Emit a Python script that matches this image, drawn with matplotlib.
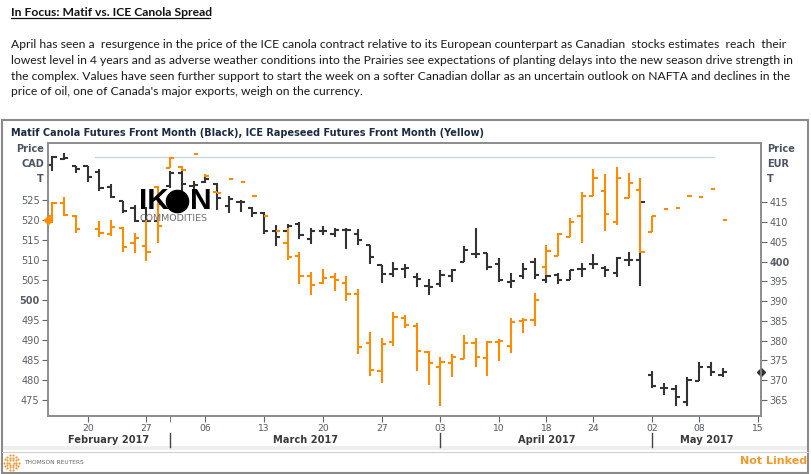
import matplotlib
matplotlib.use("Agg")
import matplotlib.pyplot as plt
import numpy as np
from matplotlib.patches import Rectangle
from matplotlib.lines import Line2D
from matplotlib.transforms import blended_transform_factory

nan = np.nan

# x = trading day index, 0 = 15 Feb 2017 (weekends / holidays skipped)
day_ticks = [3, 8, 13, 18, 23, 28, 33, 38, 42, 46, 51, 55, 60]
day_labels = ["20", "27", "06", "13", "20", "27", "03", "10", "18", "24", "02", "08", "15"]
month_starts = [10, 33, 51]
month_labels = ["February 2017", "March 2017", "April 2017", "May 2017"]

# black bars, right axis (EUR/T)
blk_open = [424.5, 426.0, 424.3, 424.2, 422.7, 418.8, 415.3, 413.5, 410.3, 410.3,
            419.0, 422.3, 419.2, 420.2, 419.6, 414.0, 415.1, 413.5, 412.2, 407.8,
            407.8, 409.6, 405.7, 407.8, 407.1, 408.0, 407.1, 404.3, 399.2, 396.8,
            398.2, 396.1, 393.8, 394.3, 396.4, 399.9, 401.9, 402.2, 399.3, 394.8,
            396.3, 399.9, 395.3, 396.7, 395.3, 398.1, 399.3, 398.5, 397.0, 400.5,
            400.5, 371.4, 368.0, 367.8, 364.6, 369.7, 373.4, 371.2]
blk_high = [426.7, 427.4, 424.3, 424.2, 423.4, 419.6, 415.3, 414.3, 413.9, 415.0,
            422.8, 423.0, 420.5, 421.7, 419.8, 416.6, 415.7, 413.7, 412.6, 409.2,
            409.4, 409.9, 408.6, 409.1, 408.4, 408.4, 408.2, 404.3, 399.2, 399.9,
            399.5, 397.1, 395.7, 398.0, 398.2, 403.9, 408.6, 402.2, 400.8, 397.0,
            399.7, 401.0, 396.5, 397.0, 398.0, 399.7, 402.0, 398.8, 401.2, 402.5,
            415.1, 372.4, 369.3, 368.8, 370.9, 374.5, 374.5, 373.1]
blk_low = [422.8, 425.7, 422.3, 420.2, 417.9, 416.0, 412.4, 410.0, 410.0, 410.0,
           418.5, 416.4, 418.3, 419.8, 413.0, 412.4, 412.6, 411.2, 406.9, 403.9,
           407.3, 405.7, 404.4, 406.7, 406.1, 403.1, 404.1, 399.5, 394.6, 396.0,
           395.9, 393.7, 391.5, 393.6, 394.8, 399.8, 401.0, 398.0, 394.8, 393.2,
           395.7, 395.7, 394.7, 394.4, 395.3, 396.0, 398.2, 396.1, 396.0, 398.8,
           393.8, 368.0, 366.3, 363.4, 363.5, 369.7, 371.0, 370.7]
blk_close = [426.4, 426.3, 423.4, 421.3, 418.5, 416.4, 412.9, 410.3, 410.2, 414.5,
             422.3, 419.6, 419.5, 420.8, 416.2, 415.9, 415.1, 412.4, 407.8, 406.1,
             409.1, 406.7, 407.8, 407.8, 408.0, 408.0, 405.4, 401.2, 396.8, 398.2,
             398.4, 395.7, 393.6, 396.7, 398.0, 402.9, 401.8, 398.7, 395.3, 395.0,
             398.2, 396.5, 396.4, 395.4, 397.8, 398.2, 399.5, 397.8, 401.0, 400.5,
             415.1, 368.6, 368.0, 365.7, 370.1, 373.3, 372.0, 372.0]

# orange bars, left axis (CAD/T)
org_open = [521.0, 524.2, 521.1, nan, 517.8, 516.5, 518.1, 514.3, 513.6, 528.3,
            533.1, 533.3, nan, nan, 526.9, nan, nan, nan, nan, nan,
            514.3, 511.0, 506.1, 504.3, 505.8, 504.3, 501.5, 489.3, 482.3, 489.6,
            495.6, 493.5, 487.1, 483.3, 484.3, 485.3, 489.3, 485.6, 489.4, 488.6,
            494.8, 495.0, 508.3, 511.0, 515.8, 521.0, 526.0, 527.3, 519.6, 525.6,
            527.5, 517.1, nan, nan, nan, nan, nan, nan]
org_high = [524.6, 525.7, 521.3, nan, 519.8, 520.0, 518.2, 516.7, 520.0, 528.5,
            535.7, 533.5, 536.5, 531.5, 527.1, 530.3, 529.5, 526.0, 521.0, 517.3,
            517.9, 512.1, 507.1, 507.7, 506.8, 506.0, 502.7, 491.9, 490.4, 497.1,
            496.3, 494.3, 487.3, 485.8, 486.4, 491.3, 490.4, 489.8, 490.3, 495.4,
            495.4, 501.7, 513.8, 516.7, 520.4, 527.1, 532.7, 531.5, 533.2, 531.7,
            530.4, 521.0, 522.8, 523.0, 526.0, 525.8, 527.8, 520.0]
org_low = [519.2, 521.0, 516.7, nan, 515.7, 516.1, 512.1, 511.8, 509.8, 514.3,
           532.9, 532.3, 536.5, 530.7, 526.7, 530.3, 529.5, 526.0, 521.0, 517.3,
           510.0, 503.9, 501.3, 503.9, 502.3, 499.8, 486.4, 481.1, 479.2, 488.6,
           492.9, 482.3, 478.8, 473.6, 480.8, 485.3, 483.3, 481.1, 484.8, 486.8,
           491.8, 493.6, 506.3, 511.0, 515.7, 514.2, 526.0, 517.3, 518.8, 525.4,
           511.7, 516.9, 522.8, 523.0, 526.0, 525.8, 527.8, 520.0]
org_close = [524.2, 521.3, 517.8, nan, 516.8, 518.2, 513.3, 515.4, 512.1, 518.5,
             535.6, 532.5, 536.5, 531.1, 526.7, 530.3, 529.5, 526.0, 521.0, 517.3,
             510.8, 506.0, 503.8, 505.6, 505.0, 501.5, 488.3, 482.5, 488.9, 495.8,
             493.8, 487.3, 484.3, 484.6, 485.7, 489.3, 485.8, 489.4, 489.8, 494.6,
             495.0, 500.0, 512.3, 516.5, 519.6, 526.0, 530.6, 521.5, 530.6, 529.3,
             512.1, 521.0, 522.8, 523.0, 526.0, 525.8, 527.8, 520.0]

ref_line = (3.6, 56.3, 535.7)   # faint horizontal line drawn on the chart

ORANGE = "#ff8c00"
BLACK = "#333333"
W, H = 812, 474


def fx(x):
    return x / W


def fy(y):
    return 1 - y / H


def draw_ohlc(a, o, h, l, c, color, w=0.36):
    o, h, l, c = map(np.asarray, (o, h, l, c))
    x = np.arange(len(c))
    m = ~np.isnan(h)
    a.vlines(x[m], l[m], h[m], color=color, lw=1.5)
    m = ~np.isnan(o)
    a.hlines(o[m], x[m] - w, x[m], color=color, lw=1.5)
    m = ~np.isnan(c)
    a.hlines(c[m], x[m], x[m] + w, color=color, lw=1.5)


fig = plt.figure(figsize=(8.12, 4.74), dpi=100)
fig.patch.set_facecolor("white")

# header text
fig.text(fx(11), fy(16.5), "In Focus: Matif vs. ICE Canola Spread", family="Lato",
         weight="bold", fontsize=8.75, color="#111111", va="baseline")
fig.add_artist(Line2D([fx(11), fx(210)], [fy(18.3), fy(18.3)], color="#111111", lw=0.9))
para = [
    "April has seen a  resurgence in the price of the ICE canola contract relative to its European counterpart as Canadian  stocks estimates  reach  their",
    "lowest level in 4 years and as adverse weather conditions into the Prairies see expectations of planting delays into the new season drive strength in",
    "the complex. Values have seen further support to start the week on a softer Canadian dollar as an uncertain outlook on NAFTA and declines in the",
    "price of oil, one of Canada's major exports, weigh on the currency.",
]
for k, line in enumerate(para):
    fig.text(fx(11), fy(48.3 + 15.7 * k), line, family="Lato", fontsize=8.75,
             color="#1a1a1a", va="baseline")

# chart frame
fig.add_artist(Rectangle((fx(2), fy(473)), fx(808) - fx(2), fy(120) - fy(473),
                         transform=fig.transFigure, fill=False, ec="#8a8a8a", lw=1.5))
fig.add_artist(Rectangle((fx(3), fy(450)), fx(807) - fx(3), fy(446) - fy(450),
                         transform=fig.transFigure, fc="#eeeeee", ec="none"))
fig.add_artist(Line2D([fx(2), fx(808)], [fy(451.5), fy(451.5)], color="#cfcfcf", lw=0.8))

fig.text(fx(11), fy(135.5), "Matif Canola Futures Front Month (Black), ICE Rapeseed Futures Front Month (Yellow)",
         weight="bold", fontsize=7.05, color="#1c2b3f", va="baseline")

ax = fig.add_axes([fx(48), fy(416), fx(761) - fx(48), fy(143) - fy(416)])
ax2 = ax.twinx()
ax.set_zorder(ax2.get_zorder() + 1)
ax.patch.set_visible(False)

draw_ohlc(ax2, blk_open, blk_high, blk_low, blk_close, BLACK)
draw_ohlc(ax, org_open, org_high, org_low, org_close, ORANGE)
ax.plot(ref_line[:2], [ref_line[2]] * 2, color="#cdd5df", lw=1, zorder=0)

ax.set_xlim(-0.374, 60.26)
ax.set_ylim(471, 539.25)
ax2.set_ylim(360.95, 430.0)
ax.set_yticks(range(475, 530, 5))
ax2.set_yticks(range(365, 420, 5))
ax.set_xticks(day_ticks, day_labels)
ax.set_xticks([month_starts[0]], minor=True)

for a in (ax, ax2):
    for s in a.spines.values():
        s.set_color("#8c8c8c")
        s.set_linewidth(1.2)
ax.tick_params(axis="y", length=4, pad=2, color="#666666", labelsize=7, labelcolor="#5a5f66")
ax2.tick_params(axis="y", length=4, pad=2, color="#666666", labelsize=7, labelcolor="#5a5f66")
ax.tick_params(axis="x", which="both", length=4, pad=1.5, color="#666666", labelsize=6.6,
               labelcolor="#505560")
for lab in ax.get_yticklabels():
    if lab.get_text() == "500":
        lab.set_fontweight("bold")
for lab in ax2.get_yticklabels():
    if lab.get_text() == "400":
        lab.set_fontweight("bold")

# last-value markers on the axes
x0, x1 = ax.get_xlim()
ax.plot([x0], [org_close[-1]], "D", color=ORANGE, ms=4.5, clip_on=False, zorder=6)
ax2.plot([x1], [blk_close[-1]], "D", color=BLACK, ms=4.5, clip_on=False, zorder=6)

# unit labels
for k, t in enumerate(["Price", "CAD", "T"]):
    fig.text(fx(44), fy(149 + 15 * k), t, ha="right", va="center", weight="bold",
             fontsize=7, color="#4b5463")
    fig.text(fx(767), fy(149 + 15 * k), ["Price", "EUR", "T"][k], ha="left", va="center",
             weight="bold", fontsize=7, color="#4b5463")

# month labels and separators
tr = blended_transform_factory(ax.transData, fig.transFigure)
bounds = [x0] + month_starts + [x1]
for k, name in enumerate(month_labels):
    ax.text((bounds[k] + bounds[k + 1]) / 2, fy(440), name, transform=tr, ha="center",
            va="center", weight="bold", fontsize=7.1, color="#3a3a3a")
for m in month_starts:
    ax.plot([m, m], [fy(433), fy(447)], transform=tr, color="#444444", lw=1, clip_on=False)

# watermark logo
fig.text(fx(139), fy(201), "IK", family="Liberation Sans", weight="bold", fontsize=21.5,
         va="center", ha="left", zorder=10)
fig.add_artist(Line2D([fx(177)], [fy(201)], marker="o", ms=16, color="black", zorder=10))
fig.text(fx(190), fy(201), "N", family="Liberation Sans", weight="bold", fontsize=21.5,
         va="center", ha="left", zorder=10)
fig.text(fx(140), fy(218.5), "COMMODITIES", fontsize=6.8, color="#6e6e6e", va="center",
         ha="left", zorder=10)

# footer
for r, n in [(2.5, 6), (5, 10), (7.5, 14)]:
    a_ = np.linspace(0, 2 * np.pi, n, endpoint=False)
    fig.add_artist(Line2D(fx(11.5 + r * np.cos(a_)), fy(462.5 + r * np.sin(a_)), ls="none",
                          marker="o", ms=1.6, color="#f29a3a", mec="none"))
fig.text(fx(24), fy(462.5), "THOMSON REUTERS", fontsize=4.2, color="#666666", va="center")
fig.text(fx(807), fy(461.5), "Not Linked", ha="right", va="center", weight="bold",
         fontsize=8, color="#f39a2b")

fig.savefig("out.png", dpi=100)
